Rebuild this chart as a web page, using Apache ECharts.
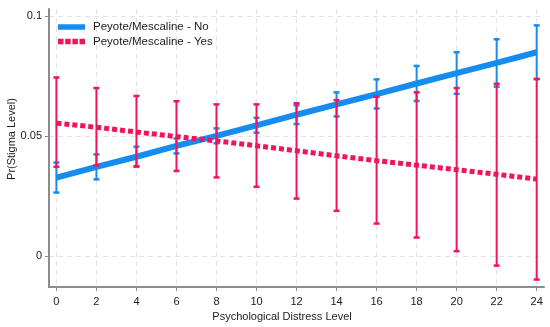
<!DOCTYPE html>
<html>
<head>
<meta charset="utf-8">
<script src="https://cdn.jsdelivr.net/npm/echarts@6/dist/echarts.min.js"></script>
<style>html,body{margin:0;padding:0;background:#fff}#c{width:550px;height:327px}</style>
</head>
<body>
<div id="c"></div>
<script>
const xVals = [0, 2, 4, 6, 8, 10, 12, 14, 16, 18, 20, 22, 24];
const xTicks = [0, 2, 4, 6, 8, 10, 12, 14, 16, 18, 20, 22, 24];
const yTicks = [0, 0.05, 0.1];
const seriesNames = ['Peyote/Mescaline - No', 'Peyote/Mescaline - Yes'];

const noMean = [0.0327, 0.0372, 0.0414, 0.0459, 0.0501, 0.0545, 0.0589, 0.0632, 0.0675, 0.0719, 0.0762, 0.0805, 0.0849];
const noLow  = [0.0265, 0.0320, 0.0372, 0.0428, 0.0470, 0.0514, 0.0550, 0.0582, 0.0615, 0.0646, 0.0676, 0.0706, 0.0737];
const noHigh = [0.0390, 0.0424, 0.0456, 0.0490, 0.0532, 0.0576, 0.0628, 0.0682, 0.0736, 0.0792, 0.0849, 0.0903, 0.0961];

const yesMean = [0.0554, 0.0537, 0.0517, 0.0498, 0.0480, 0.0460, 0.0439, 0.0418, 0.0398, 0.0379, 0.0360, 0.0341, 0.0321];
const yesLow  = [0.0372, 0.0378, 0.0375, 0.0355, 0.0328, 0.0289, 0.0240, 0.0189, 0.0136, 0.0078, 0.0021, -0.0039, -0.0097];
const yesHigh = [0.0744, 0.0700, 0.0667, 0.0645, 0.0632, 0.0632, 0.0637, 0.0650, 0.0664, 0.0682, 0.0700, 0.0718, 0.0738];

const BLUE = '#168cf0';
const RED = '#f0145a';
const FONT = '"Liberation Sans", Arial, sans-serif';

function errData(low, high) { return xVals.map((x, i) => [x, low[i], high[i]]); }
function lineData(vals) { return xVals.map((x, i) => [x, vals[i]]); }

function errRender(color) {
  return function (params, api) {
    const x = api.value(0);
    const lo = api.coord([x, api.value(1)]);
    const hi = api.coord([x, api.value(2)]);
    const hw = 3;
    return {
      type: 'group',
      children: [
        { type: 'line', shape: { x1: lo[0], y1: lo[1], x2: hi[0], y2: hi[1] }, style: { stroke: color, lineWidth: 2 } },
        { type: 'line', shape: { x1: lo[0] - hw, y1: lo[1], x2: lo[0] + hw, y2: lo[1] }, style: { stroke: color, lineWidth: 2.5 } },
        { type: 'line', shape: { x1: hi[0] - hw, y1: hi[1], x2: hi[0] + hw, y2: hi[1] }, style: { stroke: color, lineWidth: 2.5 } }
      ]
    };
  };
}

const solidIcon = 'path://M0,0 H27 V5.5 H0 Z';
const dashIcon = 'path://M0,0 H5.5 V5.5 H0 Z M7.2,0 H12.7 V5.5 H7.2 Z M14.4,0 H19.9 V5.5 H14.4 Z M21.5,0 H27 V5.5 H21.5 Z';

const chart = echarts.init(document.getElementById('c'), null, { renderer: 'canvas' });
chart.setOption({
  animation: false,
  backgroundColor: '#fff',
  textStyle: { fontFamily: FONT },
  grid: { left: 49, right: 6, top: 9, bottom: 40, containLabel: false, outerBoundsMode: 'none' },
  legend: {
    left: 58, top: 21, padding: 0, orient: 'vertical', itemWidth: 27, itemHeight: 14, itemGap: 2.5,
    textStyle: { fontFamily: FONT, fontSize: 11.5, color: '#1a1a1a', padding: [0, 0, 0, 3] },
    data: [
      { name: seriesNames[0], icon: solidIcon, itemStyle: { color: BLUE } },
      { name: seriesNames[1], icon: dashIcon, itemStyle: { color: RED } }
    ]
  },
  xAxis: {
    type: 'value', min: -0.37, max: 24.365,
    name: 'Psychological Distress Level', nameLocation: 'middle', nameGap: 24, nameMoveOverlap: false,
    nameTextStyle: { fontFamily: FONT, fontSize: 11, color: '#1a1a1a', padding: [0, 29, 0, 0] },
    axisLine: { show: true, onZero: false, lineStyle: { color: '#8c8c8c', width: 2 } },
    axisTick: { show: true, length: 4, customValues: xTicks, lineStyle: { color: '#8c8c8c', width: 1 } },
    axisLabel: { customValues: xTicks, margin: 9, fontSize: 11, color: '#1a1a1a', fontFamily: FONT },
    splitLine: { show: true, customValues: xTicks, lineStyle: { color: '#e3e3e3', type: [5, 4], width: 1 } }
  },
  yAxis: {
    type: 'value', min: -0.0128, max: 0.1029,
    name: 'Pr(Stigma Level)', nameLocation: 'middle', nameGap: 32, nameRotate: 90, nameMoveOverlap: false,
    nameTextStyle: { fontFamily: FONT, fontSize: 11, color: '#1a1a1a', padding: [0, 0, 0, 18] },
    axisLine: { show: true, onZero: false, lineStyle: { color: '#8c8c8c', width: 2 } },
    axisTick: { show: true, length: 4, customValues: yTicks, lineStyle: { color: '#8c8c8c', width: 1 } },
    axisLabel: { customValues: yTicks, margin: 7, fontSize: 11, color: '#1a1a1a', fontFamily: FONT,
      formatter: v => String(+v.toFixed(4)) },
    splitLine: { show: true, customValues: yTicks, lineStyle: { color: '#e3e3e3', type: [5, 4], width: 1 } }
  },
  series: [
    { name: seriesNames[0] + ' CI', type: 'custom', renderItem: errRender(BLUE), data: errData(noLow, noHigh), z: 2, clip: false, silent: true },
    { name: seriesNames[0], type: 'line', data: lineData(noMean), showSymbol: false, symbol: 'none', z: 3,
      lineStyle: { color: BLUE, width: 6, cap: 'butt' }, itemStyle: { color: BLUE } },
    { name: seriesNames[1] + ' CI', type: 'custom', renderItem: errRender(RED), data: errData(yesLow, yesHigh), z: 4, clip: false, silent: true },
    { name: seriesNames[1], type: 'line', data: lineData(yesMean), showSymbol: false, symbol: 'none', z: 5,
      lineStyle: { color: RED, width: 5, type: [5, 3], cap: 'butt' }, itemStyle: { color: RED } }
  ]
});
</script>
</body>
</html>
